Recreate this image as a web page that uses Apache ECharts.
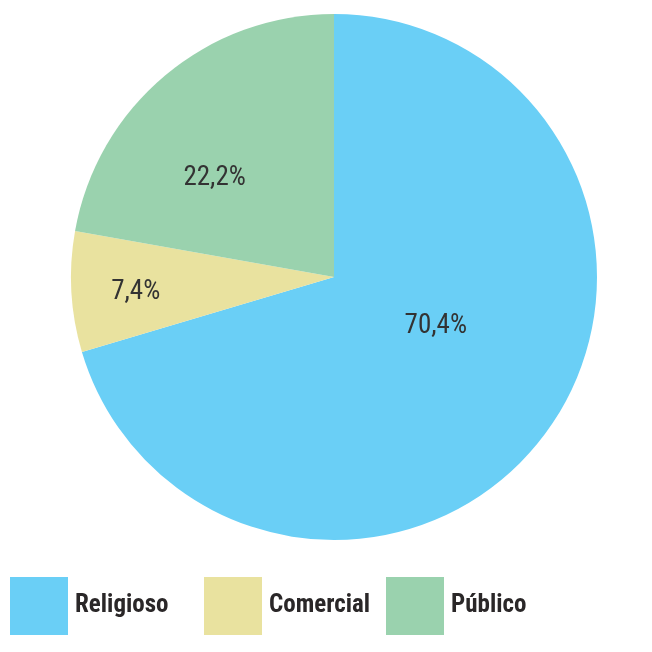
<!DOCTYPE html>
<html>
<head>
<meta charset="utf-8">
<script src="https://cdn.jsdelivr.net/npm/echarts@6/dist/echarts.min.js"></script>
<style>
  html, body { margin: 0; padding: 0; background: #ffffff; }
  #chart { width: 652px; height: 652px; }
</style>
</head>
<body>
<div id="chart"></div>
<script>
// Share of each category (percent), clockwise from 12 o'clock
const categories = ['Religioso', 'Comercial', 'Público'];
const shares = [70.4, 7.4, 22.2];
const colors = ['#6ACFF6', '#E9E29F', '#9AD2AE'];
// Nudge each percentage label inside its slice
const labelOffsets = [[-6, -31], [-64, 8], [-33, 4]];
const legendLefts = [10, 204, 386];

const FONT = "'Liberation Sans Narrow', 'Roboto Condensed', 'Liberation Sans', sans-serif";

const chart = echarts.init(document.getElementById('chart'), null, { renderer: 'canvas' });

const pieData = categories.map((name, i) => ({
  name,
  value: shares[i],
  itemStyle: { color: colors[i] },
  label: { offset: labelOffsets[i] }
}));

const legends = categories.map((name, i) => ({
  show: true,
  left: legendLefts[i],
  top: 577,
  orient: 'horizontal',
  data: [name],
  icon: 'rect',
  itemWidth: 58,
  itemHeight: 58,
  itemGap: 0,
  padding: 0,
  selectedMode: false,
  textStyle: {
    fontFamily: FONT,
    fontWeight: 'bold',
    fontSize: 25,
    color: '#2a2728',
    padding: [5, 0, 0, 2]
  }
}));

chart.setOption({
  animation: false,
  backgroundColor: '#ffffff',
  legend: legends,
  series: [{
    type: 'pie',
    center: [334, 277],
    radius: [0, 263],
    startAngle: 90,
    clockwise: true,
    avoidLabelOverlap: false,
    itemStyle: { borderWidth: 0 },
    label: {
      show: true,
      position: 'inside',
      fontFamily: FONT,
      fontSize: 27,
      color: '#333333',
      formatter: p => p.value.toFixed(1).replace('.', ',') + '%'
    },
    labelLine: { show: false },
    emphasis: { disabled: true },
    data: pieData
  }]
});
</script>
</body>
</html>
